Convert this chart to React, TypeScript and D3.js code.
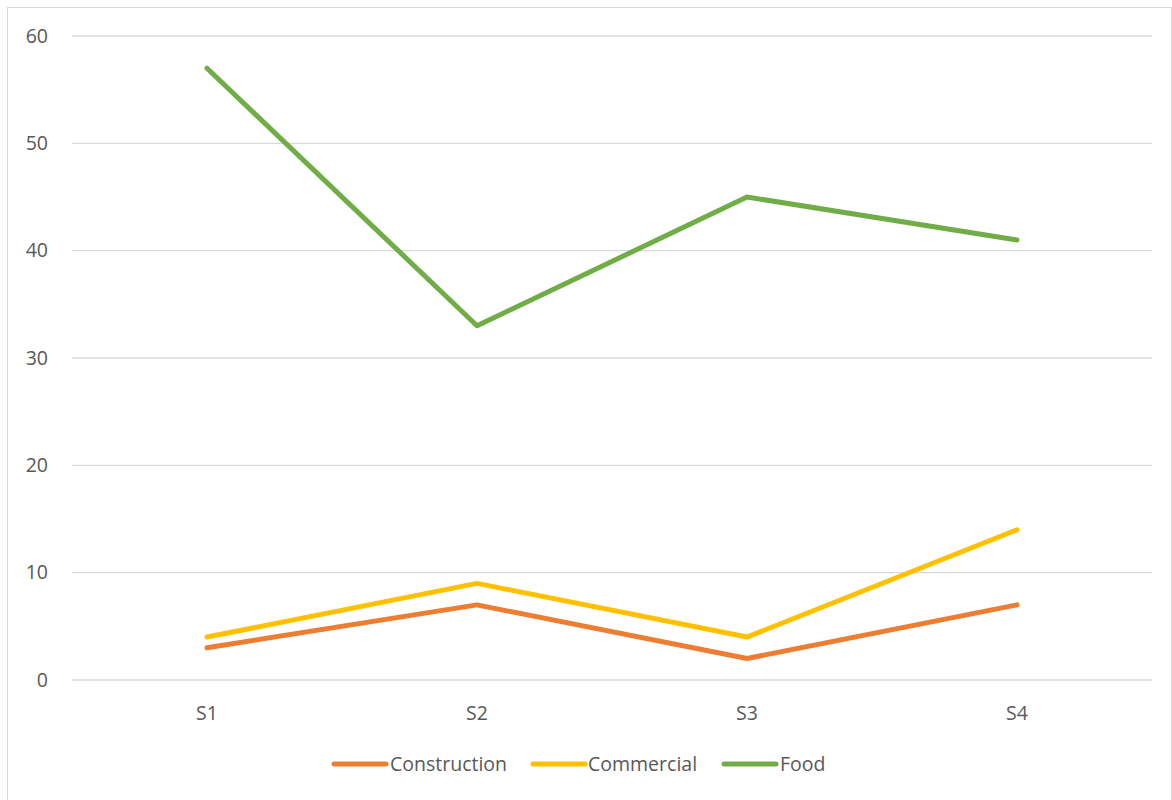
import React from "react";
import * as d3 from "d3";

const categories = ["S1", "S2", "S3", "S4"];
const seriesNames = ["Construction", "Commercial", "Food"];
const construction = [3, 7, 2, 7];
const commercial = [4, 9, 4, 14];
const food = [57, 33, 45, 41];
const colors = ["#ED7D31", "#FFC000", "#70AD47"];
const yTicks = [0, 10, 20, 30, 40, 50, 60];

const W = 1172;
const H = 800;
const FONT = "'Open Sans', sans-serif";

export default function App() {
  const x = d3.scaleBand().domain(categories).range([72, 1152]);
  const y = d3.scaleLinear().domain([0, 60]).range([680, 36]);
  const series = [construction, commercial, food];
  const line = d3
    .line<number>()
    .x((_, i) => (x(categories[i]) as number) + x.bandwidth() / 2)
    .y((d) => y(d));

  const legendItems = [
    { lx: 334, tx: 390 },
    { lx: 533, tx: 588 },
    { lx: 724, tx: 780 },
  ];

  return (
    <svg
      width={W}
      height={H}
      style={{ position: "absolute", left: 0, top: 0, background: "#fff" }}
      fontFamily={FONT}
    >
      <rect x={7.5} y={7.5} width={W - 8} height={H} fill="#fff" stroke="#D9D9D9" strokeWidth={1} />
      {yTicks.map((t) => (
        <g key={t}>
          <line x1={72} x2={1152} y1={y(t)} y2={y(t)} stroke="#D9D9D9" strokeWidth={1.3} />
          <text x={48} y={y(t)} dy="0.35em" textAnchor="end" fontSize={19.5} fill="#595959">
            {t}
          </text>
        </g>
      ))}
      {categories.map((c) => (
        <text
          key={c}
          x={(x(c) as number) + x.bandwidth() / 2}
          y={713}
          dy="0.35em"
          textAnchor="middle"
          fontSize={19.5}
          fill="#595959"
        >
          {c}
        </text>
      ))}
      {series.map((s, i) => (
        <path
          key={seriesNames[i]}
          d={line(s) as string}
          fill="none"
          stroke={colors[i]}
          strokeWidth={5}
          strokeLinecap="round"
          strokeLinejoin="round"
        />
      ))}
      {seriesNames.map((n, i) => (
        <g key={n}>
          <line
            x1={legendItems[i].lx}
            x2={legendItems[i].lx + 52}
            y1={764}
            y2={764}
            stroke={colors[i]}
            strokeWidth={5}
            strokeLinecap="round"
          />
          <text x={legendItems[i].tx} y={764} dy="0.35em" fontSize={19.5} fill="#595959">
            {n}
          </text>
        </g>
      ))}
    </svg>
  );
}
